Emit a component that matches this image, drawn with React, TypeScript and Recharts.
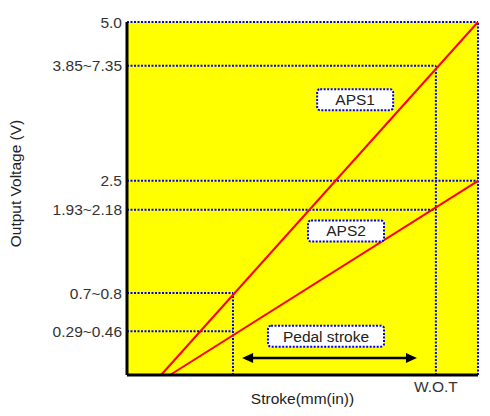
import React from "react";
import {
  ComposedChart,
  Line,
  XAxis,
  YAxis,
  CartesianGrid,
  ReferenceLine,
  ReferenceDot,
} from "recharts";

// chart units: stroke 0..100, output 0..5 (schematic, ticks are not evenly spaced)
const aps1 = [
  { x: 9.7, y: 0 },
  { x: 100, y: 5 },
];
const aps2 = [
  { x: 12.25, y: 0 },
  { x: 100, y: 2.75 },
];

const yTicks = [0.62, 1.16, 2.34, 2.75, 4.38, 5];
const yTickLabels = ["0.29~0.46", "0.7~0.8", "1.93~2.18", "2.5", "3.85~7.35", "5.0"];

const idleStroke = 30.2;
const wotStroke = 88;
const xTicks = [wotStroke];
const xTickLabels = ["W.O.T"];

// dotted guide lines: [x1, y1, x2, y2]
const guides = [
  [0, 5, 100, 5],
  [100, 0, 100, 5],
  [0, 4.38, wotStroke, 4.38],
  [0, 2.75, 100, 2.75],
  [0, 2.34, wotStroke, 2.34],
  [0, 1.16, idleStroke, 1.16],
  [0, 0.62, idleStroke, 0.62],
  [wotStroke, 0, wotStroke, 4.38],
  [idleStroke, 0, idleStroke, 1.16],
];

const boxes = [
  { x: 65, y: 3.9, text: "APS1", w: 76 },
  { x: 62.4, y: 2.04, text: "APS2", w: 76 },
  { x: 56.7, y: 0.55, text: "Pedal stroke", w: 116 },
];

const pedalArrow = { from: 32.8, to: 82.6, y: 0.24 };

const FONT = '"Liberation Sans", Arial, Helvetica, sans-serif';
const BLUE = "#0000ff";
const FS = 15.5;

const TextBox = (props: any) => {
  const { cx, cy, text, w } = props;
  const h = 21;
  return (
    <g>
      <rect
        x={cx - w / 2}
        y={cy - h / 2}
        width={w}
        height={h}
        rx={3}
        fill="#fff"
        stroke={BLUE}
        strokeWidth={2}
        strokeDasharray="2 1.5"
      />
      <text
        x={cx}
        y={cy}
        textAnchor="middle"
        dominantBaseline="central"
        fontSize={FS}
        fontFamily={FONT}
        fill="#222"
      >
        {text}
      </text>
    </g>
  );
};

const DoubleArrow = (props: any) => {
  const { x1, y1, x2 } = props;
  const head = 11;
  const half = 5;
  return (
    <g>
      <line x1={x1 + head - 1} y1={y1} x2={x2 - head + 1} y2={y1} stroke="#000" strokeWidth={2.5} />
      <polygon points={`${x1},${y1} ${x1 + head},${y1 - half} ${x1 + head},${y1 + half}`} fill="#000" />
      <polygon points={`${x2},${y1} ${x2 - head},${y1 - half} ${x2 - head},${y1 + half}`} fill="#000" />
    </g>
  );
};

const YLabel = (props: any) => {
  const { viewBox } = props;
  const cx = 15;
  const cy = viewBox.y + viewBox.height / 2 - 15;
  return (
    <text
      x={cx}
      y={cy}
      transform={`rotate(-90, ${cx}, ${cy})`}
      textAnchor="middle"
      dominantBaseline="central"
      fontSize={FS}
      fontFamily={FONT}
      fill="#222"
    >
      Output Voltage (V)
    </text>
  );
};

export default function App() {
  const tickStyle = { fontSize: FS, fontFamily: FONT, fill: "#333" };
  return (
    <div style={{ position: "absolute", left: 0, top: 0, background: "#fff" }}>
      <ComposedChart width={490} height={416} margin={{ top: 22, right: 12, bottom: 0, left: 0 }}>
        <CartesianGrid fill="#ffff00" horizontal={false} vertical={false} />
        <XAxis
          type="number"
          dataKey="x"
          domain={[0, 100]}
          ticks={xTicks}
          tickFormatter={(v: number) => xTickLabels[xTicks.indexOf(v)] ?? ""}
          tick={tickStyle}
          tickLine={false}
          tickSize={4}
          axisLine={{ stroke: "#000", strokeWidth: 3 }}
          height={41}
          label={{
            value: "Stroke(mm(in))",
            position: "insideBottom",
            offset: 12,
            fontSize: FS,
            fontFamily: FONT,
            fill: "#222",
          }}
        />
        <YAxis
          type="number"
          dataKey="y"
          domain={[0, 5]}
          ticks={yTicks}
          interval={0}
          tickFormatter={(v: number) => yTickLabels[yTicks.indexOf(v)] ?? ""}
          tick={tickStyle}
          tickLine={false}
          tickSize={0}
          tickMargin={5}
          axisLine={{ stroke: "#000", strokeWidth: 3 }}
          width={127}
          label={{ content: YLabel }}
        />
        {guides.map((g, i) => (
          <ReferenceLine
            key={"g" + i}
            segment={[
              { x: g[0], y: g[1] },
              { x: g[2], y: g[3] },
            ]}
            stroke={BLUE}
            strokeWidth={2}
            strokeDasharray="2 1.5"
          />
        ))}
        <Line
          data={aps1}
          dataKey="y"
          type="linear"
          stroke="#ff0000"
          strokeWidth={2}
          dot={false}
          isAnimationActive={false}
        />
        <Line
          data={aps2}
          dataKey="y"
          type="linear"
          stroke="#ff0000"
          strokeWidth={2}
          dot={false}
          isAnimationActive={false}
        />
        <ReferenceLine
          segment={[
            { x: pedalArrow.from, y: pedalArrow.y },
            { x: pedalArrow.to, y: pedalArrow.y },
          ]}
          shape={DoubleArrow}
        />
        {boxes.map((b) => (
          <ReferenceDot
            key={b.text}
            x={b.x}
            y={b.y}
            r={1}
            shape={(p: any) => <TextBox {...p} text={b.text} w={b.w} />}
          />
        ))}
      </ComposedChart>
    </div>
  );
}
